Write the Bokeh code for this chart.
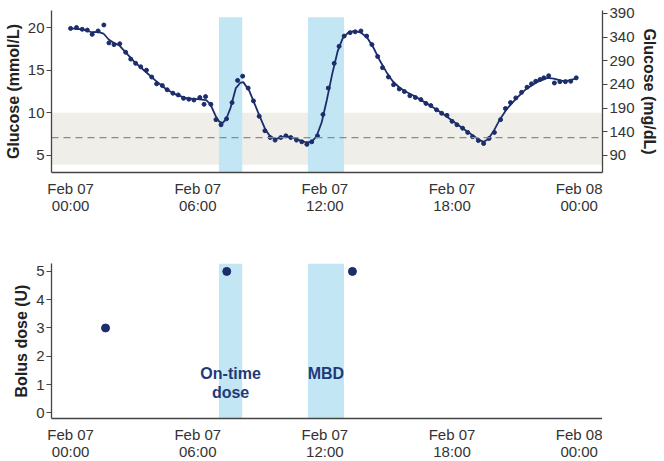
from bokeh.plotting import figure
from bokeh.models import Range1d, LinearAxis, FixedTicker, BoxAnnotation, Span
from bokeh.layouts import column
from bokeh.embed import file_html
from bokeh.resources import INLINE
from bokeh.core.properties import value

# ---------------- data ----------------
cgm_hours = [0.0, 0.28, 0.55, 0.79, 1.02, 1.30, 1.57, 1.81, 2.05, 2.32, 2.60, 2.84, 3.07, 3.31,
             3.58, 3.83, 4.06, 4.33, 4.56, 4.83, 5.08, 5.33, 5.58, 5.82, 6.10, 6.30, 6.37, 6.62,
             6.86, 7.10, 7.36, 7.62, 7.88, 8.12, 8.38, 8.63, 8.90, 9.17, 9.42, 9.65, 9.92, 10.16,
             10.39, 10.66, 10.91, 11.15, 11.38, 11.65, 11.91, 12.16, 12.44, 12.67, 12.91, 13.19,
             13.43, 13.70, 13.97, 14.22, 14.49, 14.72, 15.00, 15.24, 15.51, 15.75, 16.01, 16.27,
             16.53, 16.77, 17.00, 17.27, 17.51, 17.76, 18.00, 18.23, 18.50, 18.74, 18.97, 19.24,
             19.49, 19.75, 20.00, 20.29, 20.52, 20.76, 21.01, 21.28, 21.54, 21.75, 21.95, 22.15,
             22.33, 22.56, 22.83, 23.09, 23.35, 23.60, 23.86]
cgm_mmol = [19.9, 20.0, 19.8, 19.7, 19.2, 19.6, 20.3, 18.2, 18.0, 18.1, 17.1, 16.3, 15.8, 15.4,
            15.0, 14.2, 13.4, 13.2, 12.7, 12.3, 12.1, 11.7, 11.6, 11.5, 11.8, 11.0, 11.9, 11.0,
            9.2, 8.6, 9.3, 11.2, 13.8, 14.3, 12.9, 11.4, 9.6, 7.9, 7.1, 6.8, 7.1, 7.3,
            7.1, 6.8, 6.6, 6.3, 6.6, 7.3, 9.8, 12.9, 15.8, 17.8, 19.0, 19.4,
            19.5, 19.6, 19.0, 18.0, 16.6, 15.3, 14.2, 13.3, 12.8, 12.5, 12.0, 11.8,
            11.55, 11.1, 10.85, 10.35, 9.95, 9.7, 9.0, 8.6, 8.2, 7.7, 7.2, 6.75,
            6.4, 7.0, 7.7, 9.2, 10.5, 11.2, 11.75, 12.4, 13.0, 13.4, 13.7, 13.9,
            14.1, 14.35, 13.5, 13.65, 13.65, 13.7, 14.1]

fit_hours = [0.0, 0.5, 1.0, 1.3, 1.55, 1.8, 2.05, 2.3, 2.6, 3.0, 3.5, 4.0, 4.5, 5.0, 5.5, 6.0,
             6.4, 6.6, 6.85, 7.0, 7.17, 7.35, 7.55, 7.8, 8.0, 8.15, 8.43, 8.66, 8.94, 9.2, 9.43,
             9.67, 9.9, 10.2, 10.5, 10.8, 11.1, 11.35, 11.6, 11.85, 12.1, 12.35, 12.6, 12.85,
             13.1, 13.4, 13.7, 14.0, 14.3, 14.6, 14.9, 15.2, 15.5, 15.8, 16.2, 16.6, 17.0, 17.5,
             18.0, 18.5, 19.0, 19.3, 19.5, 19.7, 19.95, 20.25, 20.6, 21.0, 21.5, 22.0, 22.5,
             22.8, 23.2, 23.5, 23.9]
fit_mmol = [19.9, 19.8, 19.45, 19.5, 19.3, 18.6, 18.2, 17.9, 17.1, 16.0, 14.9, 13.8, 12.8, 12.1,
            11.7, 11.6, 11.5, 11.0, 9.6, 9.0, 8.8, 9.3, 10.6, 12.9, 13.5, 13.6, 12.6, 11.2, 9.5,
            8.0, 7.2, 6.95, 7.05, 7.25, 7.1, 6.8, 6.55, 6.55, 7.2, 8.9, 11.6, 14.6, 17.2, 18.8,
            19.4, 19.6, 19.4, 18.8, 17.6, 16.1, 14.8, 13.7, 13.0, 12.5, 12.0, 11.4, 10.8, 10.0,
            9.1, 8.2, 7.3, 6.8, 6.6, 6.9, 7.8, 9.2, 10.5, 11.6, 12.8, 13.6, 14.1,
            14.0, 13.75, 13.8, 14.05]

bolus_hours = [1.65, 7.37, 13.3]
bolus_units = [3, 5, 5]

window_start = [7.0, 11.2]
window_end = [8.1, 12.9]

target_low = 3.9
target_high = 10.0
reference_mmol = 7.1

x_ticks = [0, 6, 12, 18, 24]
x_tick_labels = ["Feb 07\n00:00", "Feb 07\n06:00", "Feb 07\n12:00", "Feb 07\n18:00", "Feb 08\n00:00"]
mmol_ticks = [5, 10, 15, 20]
mgdl_ticks = [90, 140, 190, 240, 290, 340, 390]
bolus_ticks = [0, 1, 2, 3, 4, 5]

label_text = ["On-time", "dose", "MBD"]
label_hours = [7.55, 7.55, 12.05]
label_units = [1.38, 0.71, 1.38]

# ---------------- style ----------------
FONT = "Liberation Sans"
NAVY = "#1b2d6b"
SKY = "#c2e6f4"
BAND = "#efeee9"
AXIS = "#444444"
MMOL_TO_MGDL = 18.0
X_START, X_END = -0.9, 25.1
Y_START, Y_END = 3.0, 22.0
WINDOW_TOP = 21.2
B_START, B_END = -0.2, 5.28
FRAME_W = 551


def style_axes(p):
    for ax in p.xaxis:
        ax.ticker = FixedTicker(ticks=x_ticks)
        ax.major_label_overrides = {t: l for t, l in zip(x_ticks, x_tick_labels)}
        ax.major_tick_line_color = None
        ax.minor_tick_line_color = None
        ax.major_tick_out = 0
        ax.major_tick_in = 0
        ax.major_label_standoff = 7
        ax.major_label_text_line_height = 1.0
    for ax in p.axis:
        ax.axis_line_color = AXIS
        ax.axis_line_width = 1.3
        ax.major_label_text_font = FONT
        ax.major_label_text_font_size = "15px"
        ax.major_label_text_color = "#333333"
        ax.axis_label_text_font = FONT
        ax.axis_label_text_font_size = "16px"
        ax.axis_label_text_font_style = "bold"
        ax.axis_label_text_color = "#222222"
        ax.minor_tick_line_color = None
    for ax in p.yaxis:
        ax.major_tick_line_color = AXIS
        ax.major_tick_out = 5
        ax.major_tick_in = 0
        ax.major_label_standoff = 2
        ax.axis_label_standoff = 3
    p.xgrid.visible = False
    p.ygrid.visible = False
    p.outline_line_color = None


# ---------------- top: glucose ----------------
top = figure(frame_width=FRAME_W, frame_height=162, output_backend="svg", toolbar_location=None,
             x_range=Range1d(X_START, X_END), y_range=Range1d(Y_START, Y_END),
             min_border_left=51, min_border_right=0, min_border_top=10, min_border_bottom=0)
top.extra_y_ranges = {"mgdl": Range1d(Y_START * MMOL_TO_MGDL, Y_END * MMOL_TO_MGDL)}
top.yaxis.axis_label = "Glucose (mmol/L)"
top.yaxis.ticker = FixedTicker(ticks=mmol_ticks)
right_axis = LinearAxis(y_range_name="mgdl", axis_label="Glucose (mg/dL)",
                        ticker=FixedTicker(ticks=mgdl_ticks))
top.add_layout(right_axis, "right")

top.add_layout(BoxAnnotation(bottom=target_low, top=target_high, fill_color=BAND,
                             fill_alpha=1.0, line_color=None, level="underlay"))
top.quad(left=window_start, right=window_end, bottom=Y_START, top=WINDOW_TOP,
         fill_color=SKY, line_color=None)
top.add_layout(Span(location=reference_mmol, dimension="width", line_color="#8a8a8a",
                    line_dash="7 5", line_width=1.3, level="glyph"))
top.line(fit_hours, fit_mmol, line_color=NAVY, line_width=1.8)
top.scatter(cgm_hours, cgm_mmol, size=4, fill_color=NAVY, line_color=NAVY)
style_axes(top)

# ---------------- bottom: bolus ----------------
bot = figure(frame_width=FRAME_W, frame_height=155, output_backend="svg", toolbar_location=None,
             x_range=Range1d(X_START, X_END), y_range=Range1d(B_START, B_END),
             min_border_left=51, min_border_right=0, min_border_top=47, min_border_bottom=0)
bot.yaxis.axis_label = "Bolus dose (U)"
bot.yaxis.ticker = FixedTicker(ticks=bolus_ticks)
bot.quad(left=window_start, right=window_end, bottom=B_START, top=B_END,
         fill_color=SKY, line_color=None)
bot.scatter(bolus_hours, bolus_units, size=8, fill_color=NAVY, line_color=NAVY)
bot.text(x=label_hours, y=label_units, text=label_text, text_align="center",
         text_baseline="middle", text_font=value(FONT), text_font_size="16px",
         text_font_style="bold", text_color="#1f3a78")
style_axes(bot)

layout = column(top, bot)
open("out.html", "w").write(file_html(layout, INLINE))
